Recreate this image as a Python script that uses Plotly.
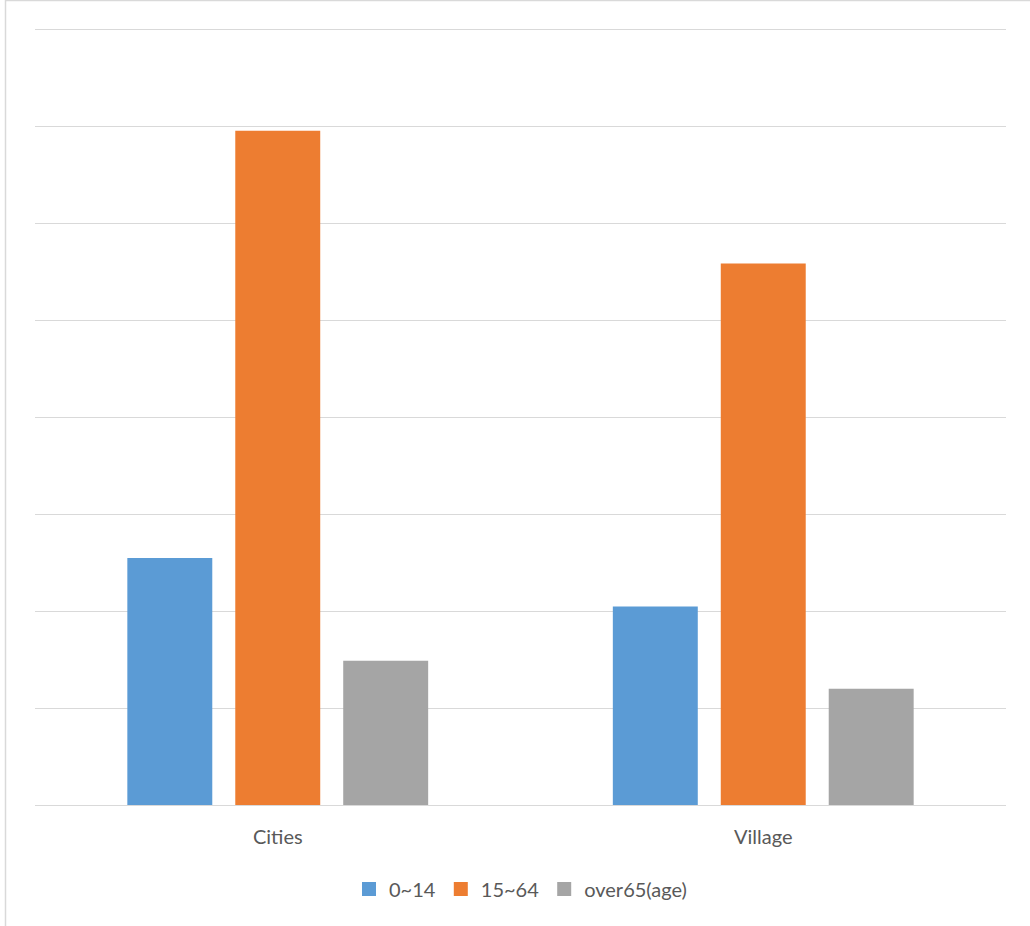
import plotly.graph_objects as go

categories = ["Cities", "Village"]
series_names = ["0~14", "15~64", "over65(age)"]
values_0_14 = [25.5, 20.5]
values_15_64 = [69.6, 55.9]
values_over65 = [14.9, 12.0]
colors = ["#5B9BD5", "#ED7D31", "#A5A5A5"]

fig = go.Figure()
for name, vals, col in zip(series_names, [values_0_14, values_15_64, values_over65], colors):
    fig.add_trace(go.Bar(x=categories, y=vals, name=name, showlegend=False,
                         marker=dict(color=col, line=dict(width=0))))
# legend entries with square markers
for name, col in zip(series_names, colors):
    fig.add_trace(go.Scatter(x=[None], y=[None], mode="markers", name=name,
                             marker=dict(symbol="square", size=14, color=col)))

L, R, T, B = 35, 24, 28, 121
W, H = 1030, 926
pw = W - L - R
ph = H - T - B
bx = (5.5 - L) / pw
by = (T - 0.5) / ph + 1

fig.update_layout(
    width=W, height=H,
    margin=dict(l=L, r=R, t=T, b=B),
    paper_bgcolor="white", plot_bgcolor="white",
    barmode="group", bargap=0.333, bargroupgap=0.213,
    font=dict(family="Lato", color="#595959", size=20),
    showlegend=True,
    legend=dict(orientation="h", x=0.5, xanchor="center", y=-0.083, yanchor="top",
                font=dict(size=20, color="#595959"), itemwidth=30, traceorder="normal"),
    xaxis=dict(showgrid=False, showline=False, zeroline=False, ticks="outside", ticklen=14,
               tickcolor="rgba(0,0,0,0)", tickfont=dict(size=20, color="#595959")),
    yaxis=dict(range=[0, 80.2], tickvals=[10, 20, 30, 40, 50, 60, 70, 80], showticklabels=False,
               showgrid=True, gridcolor="#d9d9d9", gridwidth=1.3, zeroline=True,
               zerolinecolor="#d9d9d9", zerolinewidth=1.3, showline=False),
    shapes=[dict(type="path", xref="paper", yref="paper",
                 path=f"M {bx} -0.3 L {bx} {by} L 1.1 {by}",
                 line=dict(color="#d9d9d9", width=1.5))],
)

fig.write_html("out.html")
